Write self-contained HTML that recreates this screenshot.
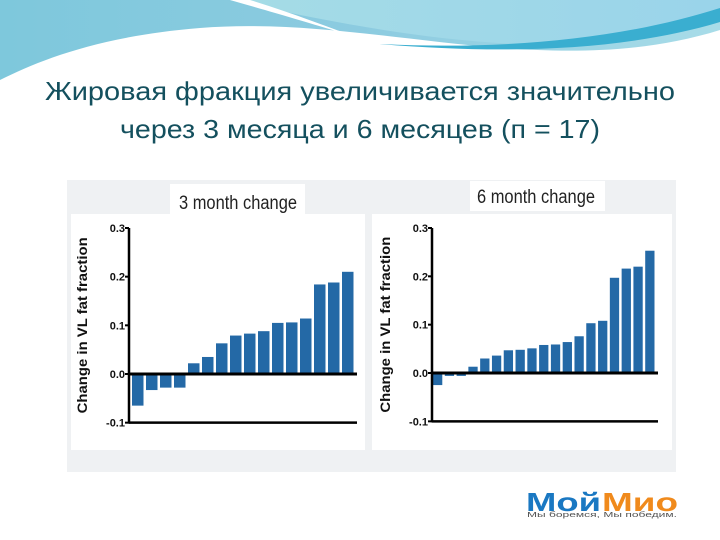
<!DOCTYPE html>
<html><head><meta charset="utf-8"><style>
html,body{margin:0;padding:0;background:#fff}
svg{display:block}
</style></head><body>
<svg id="s" width="720" height="540" viewBox="0 0 720 540" xmlns="http://www.w3.org/2000/svg">
<defs>
<linearGradient id="g1" x1="0" y1="0" x2="1" y2="0"><stop offset="0" stop-color="#7ec8dc"/><stop offset="0.5" stop-color="#8ccbe0"/><stop offset="1" stop-color="#a8dce8"/></linearGradient>
<linearGradient id="g2" x1="0" y1="0" x2="1" y2="0"><stop offset="0" stop-color="#a5dce6"/><stop offset="1" stop-color="#9ad4ea"/></linearGradient>
</defs>
<g>
<path d="M0,0 H720 V30 C640,55 560,52 500,48 C400,40 300,20 200,28 C100,36 40,60 0,80 Z" fill="url(#g1)"/>
<path d="M230,0 H720 V15 C680,35 600,45 520,44 C420,40 320,20 230,0 Z" fill="url(#g2)"/>
<path d="M230,0 C300,20 360,38 370,42 C330,28 290,12 250,0 Z" fill="#ffffff"/>
<path d="M380,44 C500,50 620,40 720,8 V22 C620,52 500,54 380,44 Z" fill="#3aaed0"/>
</g>
<text x="360" y="100" text-anchor="middle" font-family="Liberation Sans, sans-serif" font-size="26" fill="#14505e" textLength="630" lengthAdjust="spacingAndGlyphs">Жировая фракция увеличивается значительно</text>
<text x="360" y="138" text-anchor="middle" font-family="Liberation Sans, sans-serif" font-size="26" fill="#14505e" textLength="480" lengthAdjust="spacingAndGlyphs">через  3 месяца и 6 месяцев (п = 17)</text>
<rect x="67" y="180" width="609" height="292" fill="#eff1f3"/>
<rect x="71" y="214" width="294" height="236" fill="#ffffff"/>
<rect x="372" y="214" width="300" height="236" fill="#ffffff"/>
<rect x="170" y="184" width="135" height="30" fill="#ffffff"/>
<rect x="470" y="181" width="135" height="30" fill="#ffffff"/>
<g id="c1"></g><g id="c2"></g>
<g>
<text x="526" y="511" font-family="Liberation Sans, sans-serif" font-weight="bold" font-size="26" fill="#1a78c2" textLength="75" lengthAdjust="spacingAndGlyphs">Мой</text>
<text x="602" y="511" font-family="Liberation Sans, sans-serif" font-weight="bold" font-size="26" fill="#f08a1c" textLength="76" lengthAdjust="spacingAndGlyphs">Мио</text>
<text x="527" y="517" font-family="Liberation Sans, sans-serif" font-size="7" fill="#555" textLength="150" lengthAdjust="spacingAndGlyphs">Мы боремся, Мы победим.</text>
</g>
</svg>
<script>
const cats3 = ["1","2","3","4","5","6","7","8","9","10","11","12","13","14","15","16"];
const vals3 = [-0.065,-0.033,-0.028,-0.028,0.022,0.035,0.063,0.079,0.083,0.088,0.105,0.106,0.114,0.184,0.188,0.210];
const cats6 = ["1","2","3","4","5","6","7","8","9","10","11","12","13","14","15","16","17","18","19"];
const vals6 = [-0.025,-0.006,-0.006,0.013,0.030,0.036,0.047,0.048,0.051,0.058,0.059,0.064,0.076,0.103,0.108,0.197,0.216,0.220,0.253];
const ticks = [0.3,0.2,0.1,0.0,-0.1];
const tickLabels = ["0.3","0.2","0.1","0.0","-0.1"];
const NS="http://www.w3.org/2000/svg";
function mk(g,tag,at){const e=document.createElementNS(NS,tag);for(const k in at)e.setAttribute(k,at[k]);g.appendChild(e);return e;}
function chart(id,cats,vals,title,o){
  const g=document.getElementById(id);
  const y=v=>o.y0-(v)*(o.y0-o.y3)/0.3;
  const bw=(o.x1-o.x0)/cats.length;
  const x=i=>o.x0+i*bw;
  const t=mk(g,'text',{x:o.tx,y:o.ty,'text-anchor':'middle','font-family':'Liberation Sans, sans-serif','font-size':'19',fill:'#222',textLength:'118',lengthAdjust:'spacingAndGlyphs'});
  t.textContent=title;
  
  
  const yl=mk(g,'text',{transform:`translate(${o.ax-42},${(o.y3+y(-0.1))/2}) rotate(-90)`,'text-anchor':'middle','font-family':'Liberation Sans, sans-serif','font-weight':'bold','font-size':'13.5',fill:'#111',textLength:'176',lengthAdjust:'spacingAndGlyphs'});
  yl.textContent='Change in VL fat fraction';
  
  
  vals.forEach((v,i)=>{
    const r=mk(g,'rect',{x:x(i)+1,y:Math.min(y(v),y(0)),width:bw-2.5,height:Math.abs(y(v)-y(0)),fill:'#2469a6'});
    
    
  });
  const ax=mk(g,'line',{x1:o.ax,y1:o.y3,x2:o.ax,y2:y(-0.1)+1,stroke:'#000','stroke-width':2.5});
  
  
  const z=mk(g,'line',{x1:o.ax,y1:y(0),x2:o.x1+2,y2:y(0),stroke:'#000','stroke-width':3});
  
  
  const b=mk(g,'line',{x1:o.ax,y1:y(-0.1),x2:o.x1+2,y2:y(-0.1),stroke:'#000','stroke-width':2.5});
  
  
  ticks.forEach((tv,i)=>{
    mk(g,'line',{x1:o.ax-4,y1:y(tv),x2:o.ax,y2:y(tv),stroke:'#000','stroke-width':2});
    const tl=mk(g,'text',{x:o.ax-4,y:y(tv)+4,'text-anchor':'end','font-family':'Liberation Sans, sans-serif','font-weight':'bold','font-size':'11',fill:'#111'});
    tl.textContent=tickLabels[i];
    
    
  });
}
chart('c1',cats3,vals3,'3 month change',{ax:129,x0:131,x1:355,y0:374,y3:228,tx:238,ty:209});
chart('c2',cats6,vals6,'6 month change',{ax:432,x0:432,x1:656,y0:373,y3:228,tx:536,ty:203});
</script>
</body></html>
